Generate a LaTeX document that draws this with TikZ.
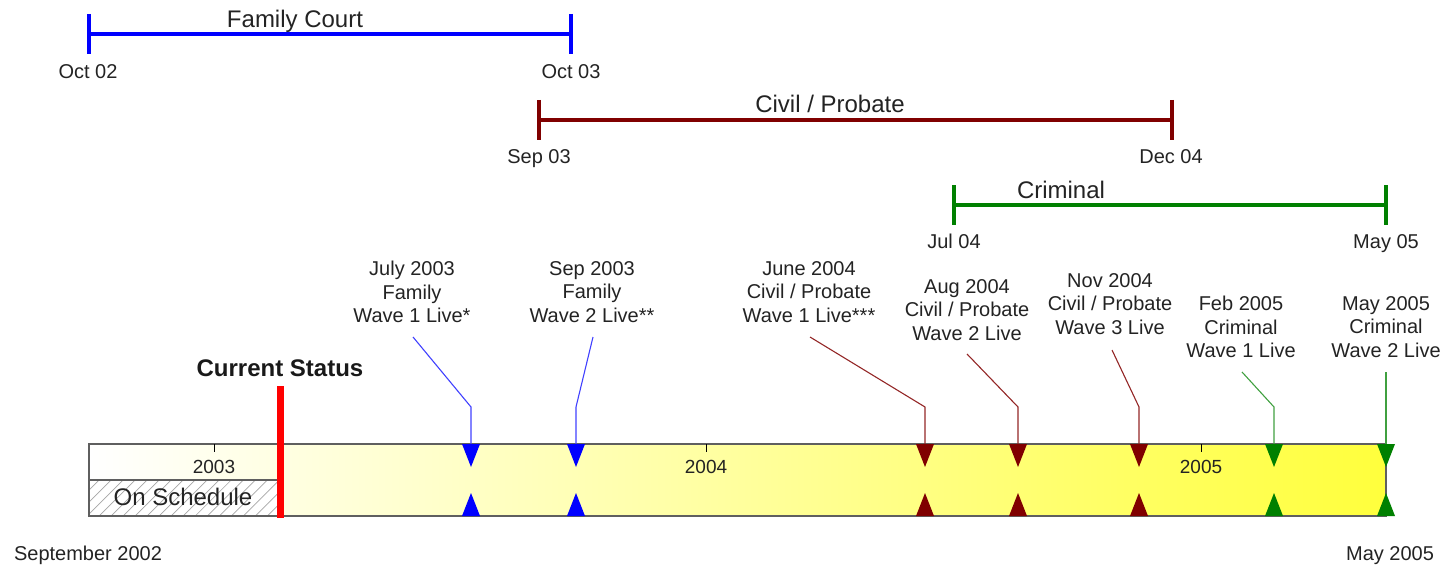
\documentclass[tikz,border=0pt]{standalone}
\usepackage{fontspec}
\setmainfont{Liberation Sans}
\usetikzlibrary{patterns.meta}
\definecolor{txt}{RGB}{35,35,35}
\definecolor{famblue}{RGB}{0,0,255}
\definecolor{civred}{RGB}{128,0,0}
\definecolor{crimgreen}{RGB}{0,128,0}
\definecolor{baryellow}{RGB}{255,255,60}
\definecolor{barframe}{RGB}{95,95,95}
\definecolor{statusred}{RGB}{255,0,0}
\begin{document}
\begin{tikzpicture}[x=1pt,y=-1pt,
  rangebar/.style={line width=4pt},
  rangelbl/.style={font=\fontsize{24}{28}\selectfont, text=txt, inner sep=0pt, anchor=base},
  datelbl/.style={font=\fontsize{20}{24}\selectfont, text=txt, inner sep=0pt, anchor=base},
  mslbl/.style={font=\fontsize{20}{23.5}\selectfont, text=txt, inner sep=0pt, anchor=north, align=center},
  yearlbl/.style={font=\fontsize{19}{22}\selectfont, text=txt, inner sep=0pt},
  callout/.style={line width=1.1pt},
  frame/.style={draw=barframe, line width=1.6pt}
]
\useasboundingbox (0,0) rectangle (1443,567);

% ---------- range bars ----------
\coordinate (fcA) at (89,34);  \coordinate (fcB) at (571,34);
\coordinate (cpA) at (539,120); \coordinate (cpB) at (1172,120);
\coordinate (crA) at (954,205); \coordinate (crB) at (1386,205);
\draw[rangebar, famblue] (fcA) -- (fcB);
\draw[rangebar, famblue] ([yshift=20pt]fcA) -- ([yshift=-20pt]fcA);
\draw[rangebar, famblue] ([yshift=20pt]fcB) -- ([yshift=-20pt]fcB);
\draw[rangebar, civred] (cpA) -- (cpB);
\draw[rangebar, civred] ([yshift=20pt]cpA) -- ([yshift=-20pt]cpA);
\draw[rangebar, civred] ([yshift=20pt]cpB) -- ([yshift=-20pt]cpB);
\draw[rangebar, crimgreen] (crA) -- (crB);
\draw[rangebar, crimgreen] ([yshift=20pt]crA) -- ([yshift=-20pt]crA);
\draw[rangebar, crimgreen] ([yshift=20pt]crB) -- ([yshift=-20pt]crB);

\node[rangelbl] (fclbl) at (295,28) {Family Court};
\node[rangelbl] (cplbl) at (830,113) {Civil / Probate};
\node[rangelbl] (crlbl) at (1061,198) {Criminal};

\node[datelbl] (d1) at (88,79) {Oct 02};
\node[datelbl] (d2) at (571,79) {Oct 03};
\node[datelbl] (d3) at (539,164) {Sep 03};
\node[datelbl] (d4) at (1171,164) {Dec 04};
\node[datelbl] (d5) at (954,248) {Jul 04};
\node[datelbl] (d6) at (1386,248) {May 05};

% ---------- main timeline bar ----------
\shade[left color=white, right color=baryellow] (89,444) rectangle (1386,516);
\fill[white] (89,480) rectangle (278,516);
\fill[pattern={Lines[angle=45,distance=8.5pt,line width=0.7pt]}, pattern color=black!35] (89,480) rectangle (278,516);
\draw[frame] (89,480) -- (278,480);
\draw[frame] (89,444) rectangle (1386,516);

\foreach \tx/\yr in {214/2003, 706/2004, 1201/2005} {
  \draw[black, line width=1pt] (\tx,444) -- (\tx,452);
  \node[yearlbl] (yr\yr) at (\tx,467) {\yr};
}
\node[font=\fontsize{24}{28}\selectfont, text=txt, inner sep=0pt] (sched) at (183,497) {On Schedule};

% ---------- milestone labels ----------
\node[mslbl] (m1) at (412,261) {July 2003\\Family\\Wave 1 Live*};
\node[mslbl] (m2) at (592,261) {Sep 2003\\Family\\Wave 2 Live**};
\node[mslbl] (m3) at (809,261) {June 2004\\Civil / Probate\\Wave 1 Live***};
\node[mslbl] (m4) at (967,279) {Aug 2004\\Civil / Probate\\Wave 2 Live};
\node[mslbl] (m5) at (1110,273) {Nov 2004\\Civil / Probate\\Wave 3 Live};
\node[mslbl] (m6) at (1241,296) {Feb 2005\\Criminal\\Wave 1 Live};
\node[mslbl] (m7) at (1386,296) {May 2005\\Criminal\\Wave 2 Live};

% ---------- callouts ----------
\foreach \i/\sx/\sy/\mx/\c in {1/413/337/471/famblue!75, 2/593/337/576/famblue!75,
   3/810/337/925/civred!85, 4/967/354/1018/civred!85, 5/1112/350/1139/civred!85,
   6/1242/372/1274/crimgreen!75, 7/1386/372/1386/crimgreen!75} {
  \coordinate (s\i) at (\sx,\sy);
  \coordinate (b\i) at (\mx,407);
  \coordinate (mk\i) at (\mx,444);
  \draw[callout, \c] (s\i) -- (b\i) -- (mk\i);
}

% ---------- markers ----------
\foreach \mx/\c in {471/famblue, 576/famblue, 925/civred, 1018/civred, 1139/civred, 1274/crimgreen, 1386/crimgreen} {
  \fill[\c] (\mx,444) ++(-9,0) -- ++(18,0) -- ++(-9,23) -- cycle;
  \fill[\c] (\mx,516) ++(-9,0) -- ++(18,0) -- ++(-9,-23) -- cycle;
}

% ---------- current status ----------
\coordinate (csT) at (280.5,386);
\coordinate (csB) at (280.5,518);
\draw[statusred, line width=7pt] (csT) -- (csB);
\node[font=\bfseries\fontsize{24}{28}\selectfont, text=black!90, inner sep=0pt] (cs) at (280,368) {Current Status};

% ---------- bottom labels ----------
\node[datelbl] (start) at (88,560) {September 2002};
\node[datelbl] (finish) at (1390,560) {May 2005};
\end{tikzpicture}
\end{document}
